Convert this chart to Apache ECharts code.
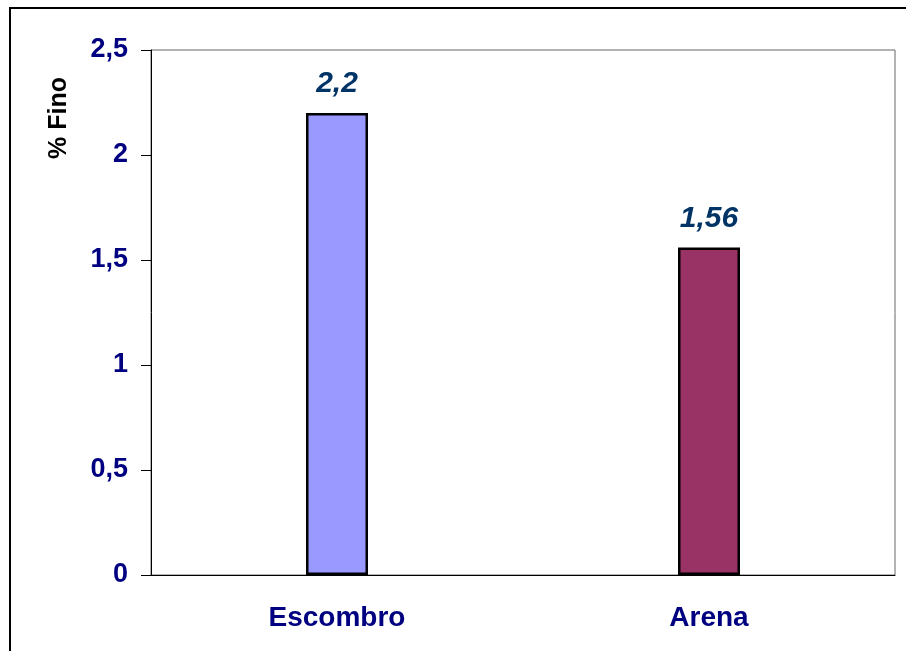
<!DOCTYPE html>
<html>
<head>
<meta charset="utf-8">
<script src="https://cdn.jsdelivr.net/npm/echarts@6/dist/echarts.min.js"></script>
<style>html,body{margin:0;padding:0;background:#fff;}#c{width:906px;height:651px;}</style>
</head>
<body>
<div id="c"></div>
<script>
const categories = ['Escombro', 'Arena'];
const values = [2.2, 1.56];
const barColors = ['#9999FF', '#993366'];
const yAxisName = '% Fino';

const chart = echarts.init(document.getElementById('c'), null, {renderer: 'canvas'});
const fmt = v => String(v).replace('.', ',');
chart.setOption({
  animation: false,
  backgroundColor: '#ffffff',
  grid: {left: 151, top: 50, right: 11, bottom: 76, show: true, borderColor: '#666', borderWidth: 1, backgroundColor: 'transparent'},
  graphic: [
    {type: 'rect', shape: {x: 10, y: 8, width: 1200, height: 1200}, style: {fill: 'none', stroke: '#000', lineWidth: 2}, silent: true, z: 100},
    {type: 'text', x: 59, y: 118, rotation: Math.PI / 2,
     style: {text: yAxisName, font: 'bold 25px "Liberation Sans", Arial, sans-serif', fill: '#000', textAlign: 'center', textVerticalAlign: 'middle'}}
  ],
  xAxis: {
    type: 'category', data: categories,
    axisLine: {show: true, lineStyle: {color: '#000', width: 1}},
    axisTick: {show: false},
    axisLabel: {color: '#000080', fontWeight: 'bold', fontSize: 28, fontFamily: '"Liberation Sans", Arial, sans-serif', margin: 29}
  },
  yAxis: {
    type: 'value', min: 0, max: 2.5, interval: 0.5,
    axisLine: {show: true, lineStyle: {color: '#000', width: 1}},
    axisTick: {show: true, length: 10, lineStyle: {color: '#000'}},
    splitLine: {show: false},
    axisLabel: {color: '#000080', fontWeight: 'bold', fontSize: 27, fontFamily: '"Liberation Sans", Arial, sans-serif', margin: 23, formatter: fmt}
  },
  series: [{
    type: 'bar', barWidth: 62,
    data: values.map((v, i) => ({value: v, itemStyle: {color: barColors[i]}})),
    itemStyle: {borderColor: '#000', borderWidth: 2.5},
    label: {show: true, position: 'top', distance: 14, formatter: p => fmt(p.value),
      color: '#003366', fontWeight: 'bold', fontStyle: 'italic', fontSize: 30, fontFamily: '"Liberation Sans", Arial, sans-serif'}
  }]
});
</script>
</body>
</html>
